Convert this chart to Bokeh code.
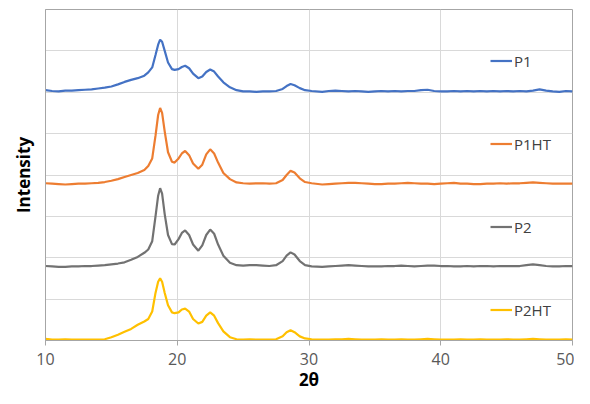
from bokeh.plotting import figure
from bokeh.models import Legend, LegendItem, FixedTicker, ColumnDataSource
from bokeh.embed import file_html
from bokeh.resources import INLINE

# 2-theta positions (degrees)
two_theta = [10, 10.5, 11, 11.5, 12, 12.5, 13, 13.5, 14, 14.5, 15, 15.5, 16, 16.5, 17, 17.5,
             17.8, 18.1, 18.35, 18.55, 18.7, 18.85, 19.05, 19.3, 19.6, 19.8,
             20.1, 20.35, 20.6, 20.9, 21.2, 21.6, 21.9, 22.2, 22.5, 22.8,
             23.1, 23.5, 24.0, 24.5, 25.0, 25.5, 26, 26.5, 27, 27.5,
             28.0, 28.3, 28.6, 28.9, 29.3, 29.7, 30.2,
             31, 31.5, 32, 32.5, 33, 33.5, 34, 34.5, 35, 35.5,
             36, 36.5, 37, 37.5, 38, 38.5, 39, 39.5, 40, 40.5,
             41, 41.5, 42, 42.5, 43, 43.5, 44, 44.5, 45, 45.5,
             46, 46.5, 47, 47.5, 48, 48.5, 49, 49.5, 50]

# stacked (offset) intensities, arbitrary units
p1 = [6.05, 6.03, 6.02, 6.04, 6.04, 6.05, 6.06, 6.07, 6.09, 6.11, 6.14, 6.19, 6.25, 6.30, 6.34, 6.40,
      6.48, 6.60, 6.90, 7.15, 7.27, 7.22, 7.00, 6.72, 6.56, 6.54,
      6.56, 6.61, 6.64, 6.58, 6.45, 6.34, 6.38, 6.49, 6.55, 6.50,
      6.38, 6.24, 6.12, 6.05, 6.02, 6.02, 6.01, 6.02, 6.02, 6.03,
      6.08, 6.15, 6.20, 6.17, 6.10, 6.05, 6.03,
      6.01, 6.03, 6.04, 6.03, 6.02, 6.03, 6.02, 6.01, 6.02, 6.03,
      6.02, 6.03, 6.02, 6.03, 6.03, 6.05, 6.06, 6.03, 6.02, 6.02,
      6.03, 6.02, 6.03, 6.02, 6.03, 6.02, 6.03, 6.02, 6.03, 6.02,
      6.03, 6.02, 6.04, 6.07, 6.04, 6.02, 6.01, 6.03, 6.02]

p1ht = [3.80, 3.79, 3.78, 3.77, 3.78, 3.79, 3.79, 3.80, 3.81, 3.83, 3.86, 3.90, 3.95, 4.00, 4.05, 4.12,
        4.22, 4.40, 4.95, 5.45, 5.62, 5.50, 5.05, 4.55, 4.32, 4.30,
        4.40, 4.52, 4.58, 4.48, 4.28, 4.15, 4.25, 4.50, 4.62, 4.52,
        4.30, 4.05, 3.90, 3.82, 3.80, 3.79, 3.80, 3.80, 3.79, 3.80,
        3.88, 4.00, 4.10, 4.06, 3.92, 3.83, 3.80,
        3.77, 3.78, 3.79, 3.80, 3.81, 3.81, 3.80, 3.79, 3.78, 3.78,
        3.79, 3.79, 3.80, 3.81, 3.80, 3.79, 3.79, 3.78, 3.79, 3.80,
        3.81, 3.79, 3.79, 3.78, 3.78, 3.79, 3.79, 3.80, 3.79, 3.80,
        3.80, 3.81, 3.82, 3.81, 3.80, 3.79, 3.79, 3.79, 3.79]

p2 = [1.80, 1.79, 1.78, 1.78, 1.79, 1.79, 1.80, 1.80, 1.81, 1.82, 1.84, 1.86, 1.89, 1.95, 2.02, 2.12,
      2.20, 2.40, 3.00, 3.50, 3.68, 3.55, 3.05, 2.55, 2.33, 2.32,
      2.45, 2.60, 2.66, 2.55, 2.32, 2.17, 2.30, 2.55, 2.68, 2.58,
      2.32, 2.05, 1.88, 1.82, 1.81, 1.82, 1.82, 1.81, 1.80, 1.82,
      1.92, 2.05, 2.13, 2.08, 1.92, 1.82, 1.79,
      1.78, 1.79, 1.80, 1.81, 1.82, 1.81, 1.80, 1.79, 1.79, 1.79,
      1.80, 1.80, 1.81, 1.80, 1.79, 1.80, 1.81, 1.81, 1.80, 1.80,
      1.79, 1.79, 1.80, 1.79, 1.80, 1.80, 1.79, 1.80, 1.80, 1.80,
      1.80, 1.82, 1.84, 1.82, 1.80, 1.79, 1.79, 1.80, 1.80]

p2ht = [0.04, 0.02, 0.02, 0.03, 0.02, 0.02, 0.02, 0.02, 0.02, 0.03, 0.08, 0.14, 0.21, 0.28, 0.38, 0.46,
        0.52, 0.70, 1.15, 1.42, 1.50, 1.42, 1.15, 0.85, 0.68, 0.66,
        0.68, 0.75, 0.77, 0.70, 0.52, 0.41, 0.45, 0.60, 0.68, 0.60,
        0.42, 0.22, 0.08, 0.03, 0.02, 0.03, 0.02, 0.02, 0.02, 0.03,
        0.10, 0.20, 0.25, 0.20, 0.10, 0.05, 0.03,
        0.02, 0.02, 0.03, 0.03, 0.04, 0.03, 0.02, 0.02, 0.02, 0.03,
        0.02, 0.02, 0.03, 0.02, 0.02, 0.03, 0.04, 0.03, 0.02, 0.02,
        0.02, 0.03, 0.02, 0.02, 0.03, 0.02, 0.02, 0.02, 0.03, 0.02,
        0.02, 0.03, 0.04, 0.03, 0.02, 0.02, 0.02, 0.03, 0.02]

series_names = ["P1", "P1HT", "P2", "P2HT"]
series_values = [p1, p1ht, p2, p2ht]
series_colors = ["#4472C4", "#ED7D31", "#727272", "#FFC000"]

x_ticks = [10, 20, 30, 40, 50]
y_grid = [0, 1, 2, 3, 4, 5, 6, 7, 8]

FONT = "Open Sans"
AX = "#A6A6A6"

p = figure(width=574, height=396, x_range=(10, 50), y_range=(0, 8),
           output_backend="svg", toolbar_location=None,
           min_border_left=45, min_border_right=2, min_border_top=9, min_border_bottom=56)

p.background_fill_color = "white"
p.border_fill_color = "white"
p.outline_line_color = AX
p.outline_line_width = 1

items = []
for name, vals, col in zip(series_names, series_values, series_colors):
    src = ColumnDataSource(dict(x=two_theta, y=vals))
    r = p.line("x", "y", source=src, line_color=col, line_width=2.2)
    items.append(LegendItem(label=name, renderers=[r]))

# x axis
p.xaxis.ticker = FixedTicker(ticks=x_ticks)
p.xaxis.axis_label = "2θ"
p.xaxis.axis_label_text_font = FONT
p.xaxis.axis_label_text_font_style = "bold"
p.xaxis.axis_label_text_font_size = "17px"
p.xaxis.axis_label_text_color = "black"
p.xaxis.axis_label_standoff = 0
p.xaxis.major_label_text_font = FONT
p.xaxis.major_label_text_font_size = "16px"
p.xaxis.major_label_text_color = "#595959"
p.xaxis.major_label_standoff = 7
p.xaxis.axis_line_color = AX
p.xaxis.major_tick_line_color = AX
p.xaxis.major_tick_out = 5
p.xaxis.major_tick_in = 0
p.xaxis.minor_tick_line_color = None

# y axis (no tick labels; grid lines every unit)
p.yaxis.ticker = FixedTicker(ticks=[])
p.yaxis.axis_label = "Intensity"
p.yaxis.axis_label_text_font = FONT
p.yaxis.axis_label_text_font_style = "bold"
p.yaxis.axis_label_text_font_size = "17px"
p.yaxis.axis_label_text_color = "black"
p.yaxis.axis_label_standoff = 11
p.yaxis.major_label_standoff = 0
p.yaxis.axis_line_color = AX
p.yaxis.major_tick_line_color = None
p.yaxis.minor_tick_line_color = None

p.ygrid.ticker = FixedTicker(ticks=y_grid)
p.xgrid.grid_line_color = "#D9D9D9"
p.ygrid.grid_line_color = "#D9D9D9"
p.xgrid.grid_line_width = 1
p.ygrid.grid_line_width = 1

legend = Legend(items=items, location=(445, 20), orientation="vertical",
                glyph_width=22, glyph_height=21, label_height=21, spacing=62,
                label_standoff=2, padding=0, margin=0,
                label_text_font=FONT, label_text_font_size="15px", label_text_color="#404040",
                border_line_color=None, background_fill_alpha=0)
p.add_layout(legend, "center")

open("out.html", "w").write(file_html(p, INLINE))
